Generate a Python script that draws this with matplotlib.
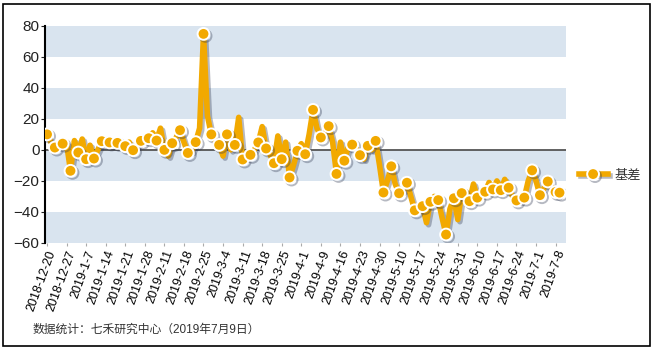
import matplotlib
matplotlib.use("Agg")
import matplotlib.pyplot as plt
import matplotlib.patheffects as pe
from matplotlib.patches import Rectangle
from matplotlib.lines import Line2D

plt.rcParams['font.family'] = ['Liberation Sans', 'Noto Sans CJK SC', 'DejaVu Sans']

# basis values, one per trading day (2018-12-20 .. 2019-7-8)
basis = [
    10, 5, 1.5, 2, 4, 4, -13.5, 6, -1.7, 7,
    -6, 3, -5.6, 0, 5.6, 5, 4.8, 4, 4.5, 5,
    2.4, 5, -0.2, 3, 5.8, 6, 7.5, 11, 6, 14,
    0, -4, 4.3, 8, 12.7, 5, -2, -1, 5, 14,
    74.8, 22, 10, 6, 3.2, -4, 10, 0, 3.2, 21,
    -6.2, -5, -3.2, 0, 4.8, 15, 0.9, -3, -8.6, 9,
    -6, 5, -17.8, -10, -0.6, 4, -2.8, 10, 25.8, 14,
    8, 10, 15.3, 5, -15.5, 5, -7, 2, 3.4, 1,
    -3.4, -6, 2.6, 0, 5.8, -10, -27.5, -20, -10.6, -22,
    -28, -26, -21.2, -30, -39, -37, -36.3, -47, -33.5, -30,
    -32.4, -44, -54.6, -38, -31.2, -45, -27.9, -27, -33.1, -22,
    -30.8, -28, -27, -21, -25.5, -20, -26, -19, -24.4, -30,
    -32.6, -33, -30.8, -20, -13.2, -20, -29.2, -25, -20.4, -24,
    -27.2, -27.6,
]

tick_labels = [
    '2018-12-20', '2018-12-27', '2019-1-7', '2019-1-14', '2019-1-21', '2019-1-28',
    '2019-2-11', '2019-2-18', '2019-2-25', '2019-3-4', '2019-3-11', '2019-3-18',
    '2019-3-25', '2019-4-1', '2019-4-9', '2019-4-16', '2019-4-23', '2019-4-30',
    '2019-5-10', '2019-5-17', '2019-5-24', '2019-5-31', '2019-6-10', '2019-6-17',
    '2019-6-24', '2019-7-1', '2019-7-8',
]

orange = '#f2a900'
band = '#d9e4ef'

fig = plt.figure(figsize=(6.53, 3.49), dpi=100)
ax = fig.add_axes([0.069, 0.304, 0.798, 0.622])

# alternating horizontal bands
for lo in range(-60, 80, 40):
    ax.axhspan(lo, lo + 20, color=band, lw=0, zorder=0)
ax.axhline(0, color='#555555', lw=1.3, zorder=1)

shadow = [pe.SimpleLineShadow(offset=(1.5, -1.5), shadow_color='#303850', alpha=0.35),
          pe.Normal()]

x = list(range(len(basis)))
marks = list(range(0, len(basis), 2)) + [len(basis) - 1]
ax.plot(x, basis, color=orange, lw=4, solid_joinstyle='round',
        marker='o', markevery=marks, ms=8.5, mfc=orange, mec='white', mew=1.4,
        zorder=3, path_effects=shadow)

ax.set_xlim(-0.5, len(basis) + 0.7)
ax.set_ylim(-60, 80)
ax.set_yticks(range(-60, 81, 20))
ax.set_xticks(range(0, len(basis), 5))
ax.set_xticklabels(tick_labels, rotation=70, ha='right', va='top',
                   rotation_mode='anchor', fontsize=9)
ax.tick_params(axis='x', length=2, color='#aaaaaa', pad=2)
ax.tick_params(axis='y', length=3, labelsize=11, colors='#222222', pad=1)

for s in ['top', 'right', 'bottom']:
    ax.spines[s].set_visible(False)
ax.spines['left'].set_color('black')
ax.spines['left'].set_linewidth(1.5)

# legend
h = Line2D([], [], color=orange, lw=4, marker='o', ms=8.5, mfc=orange,
           mec='white', mew=1.4, path_effects=shadow)
fig.legend([h], ['基差'], loc='center left', bbox_to_anchor=(0.886, 0.497),
           frameon=False, fontsize=9.5, handlelength=2.2, handletextpad=0.5,
           borderaxespad=0, borderpad=0, labelcolor='#333333')

fig.text(0.05, 0.055, '数据统计：七禾研究中心（2019年7月9日）', fontsize=8.5,
         color='#333333', ha='left', va='center')

fig.patches.append(Rectangle((0.004, 0.009), 0.991, 0.98, transform=fig.transFigure,
                             fill=False, ec='black', lw=1.2))

fig.savefig('out.png', dpi=100)
